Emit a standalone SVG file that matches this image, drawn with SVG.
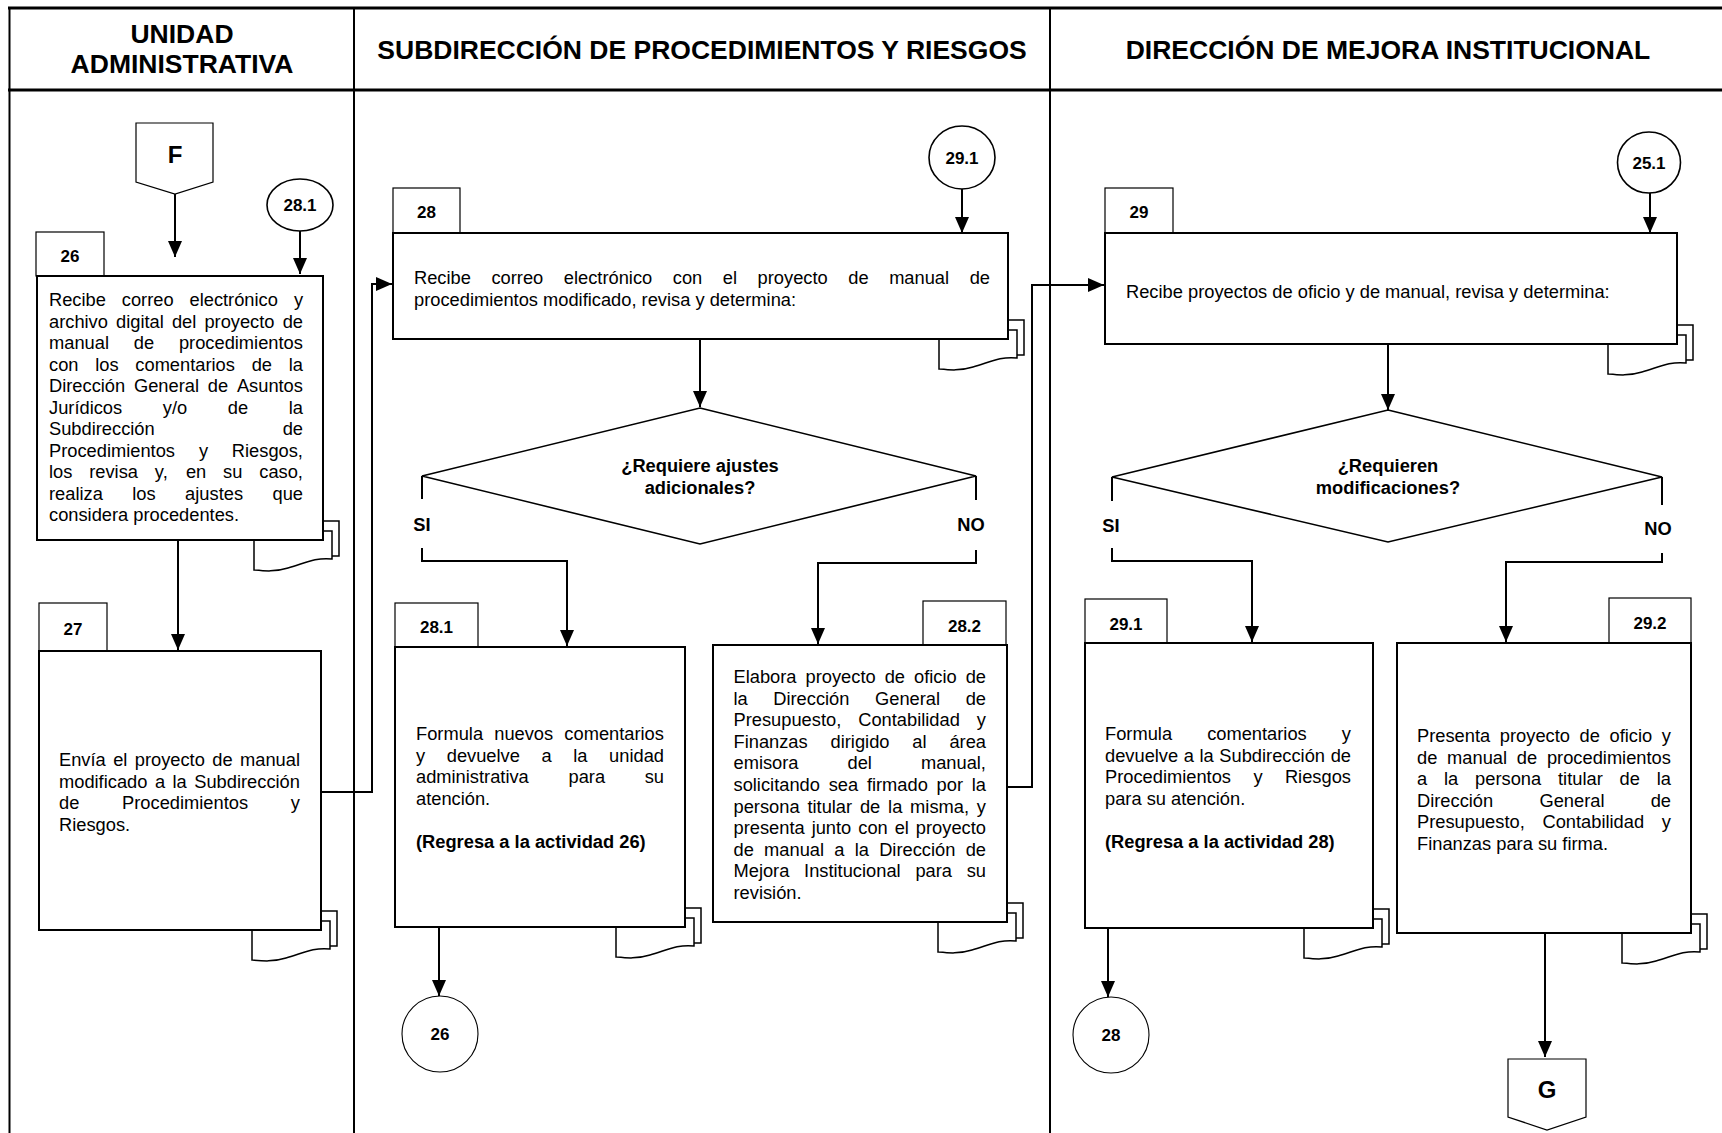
<svg xmlns="http://www.w3.org/2000/svg" xmlns:xlink="http://www.w3.org/1999/xlink" width="1722" height="1133" viewBox="0 0 1722 1133">
<style>
.lane{fill:none;stroke:#000;stroke-width:2}
.lthick{fill:none;stroke:#000;stroke-width:3}
.box{fill:#fff;stroke:#000;stroke-width:2}
.tab{fill:#fff;stroke:#000;stroke-width:1.2}
.circ{fill:#fff;stroke:#000;stroke-width:1.6}
.circ2{fill:#fff;stroke:#000;stroke-width:1.1}
.dia{fill:#fff;stroke:#000;stroke-width:1.6}
.conn{fill:none;stroke:#000;stroke-width:2}
.arr{marker-end:url(#ah)}
.doc{fill:#fff;stroke:#000;stroke-width:1.5}
text{font-family:"Liberation Sans",Arial,Helvetica,sans-serif;fill:#000}
.t{font-size:18.3px}
.b{font-size:18.3px;font-weight:bold}
.lbl{font-size:17px;font-weight:bold;text-anchor:middle}
.hdr{font-size:26.5px;font-weight:bold;text-anchor:middle}
.mid{text-anchor:middle}
</style>
<defs>
<marker id="ah" markerUnits="userSpaceOnUse" markerWidth="16" markerHeight="14" refX="16" refY="7" orient="auto">
<path d="M0,0 L16,7 L0,14 Z" fill="#000"/>
</marker>
<g id="doc">
<path class="doc" d="M-62,-19 H16 V16 H-62 Z"/>
<path class="doc" d="M-69,-9 H9 V19 C-8,17 -20,24 -35,28 C-48,32 -58,31 -69,30 Z"/>
</g>
</defs>
<rect x="0" y="0" width="1722" height="1133" fill="#fff"/>

<g id="lanes">
<line class="lthick" x1="8" y1="8" x2="1722" y2="8"/>
<line class="lthick" x1="8" y1="90" x2="1722" y2="90"/>
<line class="lane" x1="9.5" y1="7" x2="9.5" y2="1133"/>
<line class="lane" x1="354" y1="8" x2="354" y2="1133"/>
<line class="lane" x1="1050" y1="8" x2="1050" y2="1133"/>
<text class="hdr" x="182" y="42.5">UNIDAD</text>
<text class="hdr" x="182" y="73">ADMINISTRATIVA</text>
<text class="hdr" x="702" y="59">SUBDIRECCIÓN DE PROCEDIMIENTOS Y RIESGOS</text>
<text class="hdr" x="1388" y="59">DIRECCIÓN DE MEJORA INSTITUCIONAL</text>
</g>

<g id="connectors">
<line class="conn arr" x1="175" y1="194" x2="175" y2="257"/>
<line class="conn arr" x1="300" y1="231" x2="300" y2="274"/>
<line class="conn arr" x1="178" y1="540" x2="178" y2="650"/>
<path class="conn arr" d="M321,792 H372 V284 H392"/>
<line class="conn arr" x1="962" y1="189" x2="962" y2="233"/>
<line class="conn arr" x1="700" y1="339" x2="700" y2="407"/>
<path class="conn" d="M422,476 V499"/>
<path class="conn arr" d="M422,548 V561 H567 V646"/>
<path class="conn" d="M976,476 V500"/>
<path class="conn arr" d="M976,550 V563 H818 V644"/>
<line class="conn arr" x1="439" y1="927" x2="439" y2="996"/>
<path class="conn arr" d="M1007,787 H1032 V285 H1104"/>
<line class="conn arr" x1="1650" y1="193" x2="1650" y2="233"/>
<line class="conn arr" x1="1388" y1="344" x2="1388" y2="410"/>
<path class="conn" d="M1112,477 V501"/>
<path class="conn arr" d="M1112,548 V561 H1252 V642"/>
<path class="conn" d="M1662,477 V505"/>
<path class="conn arr" d="M1662,553 V562 H1506 V642"/>
<line class="conn arr" x1="1108" y1="928" x2="1108" y2="997"/>
<line class="conn arr" x1="1545" y1="933" x2="1545" y2="1057"/>
</g>

<g id="nF">
<path class="tab" d="M136,123 H213 V182 L175,194 L136,182 Z"/>
<text class="hdr" x="175" y="163" style="font-size:24px">F</text>
</g>

<g id="c281a">
<ellipse class="circ" cx="300" cy="205" rx="33" ry="26"/>
<text class="lbl" x="300" y="211">28.1</text>
</g>

<g id="n26">
<use href="#doc" x="323" y="540"/>
<rect class="tab" x="36" y="232" width="68" height="44"/>
<rect class="box" x="37" y="276" width="286" height="264"/>
<text class="lbl" x="70" y="262">26</text>
<text class="t"><tspan x="49" y="306">Recibe</tspan><tspan x="121.8" y="306">correo</tspan><tspan x="189.5" y="306">electrónico</tspan><tspan x="293.9" y="306">y</tspan></text>
<text class="t"><tspan x="49" y="327.5">archivo</tspan><tspan x="116.05" y="327.5">digital</tspan><tspan x="171.92" y="327.5">del</tspan><tspan x="204.4" y="327.5">proyecto</tspan><tspan x="282.65" y="327.5">de</tspan></text>
<text class="t"><tspan x="49" y="349">manual</tspan><tspan x="133.79" y="349">de</tspan><tspan x="178.92" y="349">procedimientos</tspan></text>
<text class="t"><tspan x="49" y="370.5">con</tspan><tspan x="95.22" y="370.5">los</tspan><tspan x="135.33" y="370.5">comentarios</tspan><tspan x="251.71" y="370.5">de</tspan><tspan x="288.78" y="370.5">la</tspan></text>
<text class="t"><tspan x="49" y="392">Dirección</tspan><tspan x="133.99" y="392">General</tspan><tspan x="207.81" y="392">de</tspan><tspan x="236.89" y="392">Asuntos</tspan></text>
<text class="t"><tspan x="49" y="413.5">Jurídicos</tspan><tspan x="162.81" y="413.5">y/o</tspan><tspan x="227.81" y="413.5">de</tspan><tspan x="288.75" y="413.5">la</tspan></text>
<text class="t"><tspan x="49" y="435">Subdirección</tspan><tspan x="282.65" y="435">de</tspan></text>
<text class="t"><tspan x="49" y="456.5">Procedimientos</tspan><tspan x="198.89" y="456.5">y</tspan><tspan x="231.82" y="456.5">Riesgos,</tspan></text>
<text class="t"><tspan x="49" y="478">los</tspan><tspan x="89.22" y="478">revisa</tspan><tspan x="154.86" y="478">y,</tspan><tspan x="185.93" y="478">en</tspan><tspan x="223.11" y="478">su</tspan><tspan x="259.26" y="478">caso,</tspan></text>
<text class="t"><tspan x="49" y="499.5">realiza</tspan><tspan x="132.3" y="499.5">los</tspan><tspan x="185.1" y="499.5">ajustes</tspan><tspan x="272.48" y="499.5">que</tspan></text>
<text class="t" x="49" y="521">considera procedentes.</text>
</g>

<g id="n27">
<use href="#doc" x="321" y="930"/>
<rect class="tab" x="39" y="603" width="68" height="48"/>
<rect class="box" x="39" y="651" width="282" height="279"/>
<text class="lbl" x="73" y="635">27</text>
<text class="t"><tspan x="59" y="766">Envía</tspan><tspan x="113.15" y="766">el</tspan><tspan x="134.75" y="766">proyecto</tspan><tspan x="212.29" y="766">de</tspan><tspan x="240" y="766">manual</tspan></text>
<text class="t"><tspan x="59" y="787.5">modificado</tspan><tspan x="154.93" y="787.5">a</tspan><tspan x="172.55" y="787.5">la</tspan><tspan x="194.24" y="787.5">Subdirección</tspan></text>
<text class="t"><tspan x="59" y="809">de</tspan><tspan x="122.05" y="809">Procedimientos</tspan><tspan x="290.86" y="809">y</tspan></text>
<text class="t" x="59" y="830.5">Riesgos.</text>
</g>

<g id="c291a">
<ellipse class="circ" cx="962" cy="157.5" rx="33" ry="31.5"/>
<text class="lbl" x="962" y="163.5">29.1</text>
</g>

<g id="n28">
<use href="#doc" x="1008" y="339"/>
<rect class="tab" x="393" y="188" width="67" height="45"/>
<rect class="box" x="393" y="233" width="615" height="106"/>
<text class="lbl" x="426.5" y="218">28</text>
<text class="t"><tspan x="414" y="283.5">Recibe</tspan><tspan x="491.46" y="283.5">correo</tspan><tspan x="563.83" y="283.5">electrónico</tspan><tspan x="672.82" y="283.5">con</tspan><tspan x="722.83" y="283.5">el</tspan><tspan x="757.58" y="283.5">proyecto</tspan><tspan x="848.27" y="283.5">de</tspan><tspan x="889.13" y="283.5">manual</tspan><tspan x="969.65" y="283.5">de</tspan></text>
<text class="t" x="414" y="305.5">procedimientos modificado, revisa y determina:</text>
</g>

<g id="d28">
<path class="dia" d="M700,408 L976,476 L700,544 L422,476 Z"/>
<text class="b mid" x="700" y="472">¿Requiere ajustes</text>
<text class="b mid" x="700" y="494">adicionales?</text>
<text class="b mid" x="422" y="531">SI</text>
<text class="b mid" x="971" y="531">NO</text>
</g>

<g id="n281">
<use href="#doc" x="685" y="927"/>
<rect class="tab" x="395" y="603" width="83" height="44"/>
<rect class="box" x="395" y="647" width="290" height="280"/>
<text class="lbl" x="436.5" y="633">28.1</text>
<text class="t"><tspan x="416" y="740">Formula</tspan><tspan x="494.23" y="740">nuevos</tspan><tspan x="564.35" y="740">comentarios</tspan></text>
<text class="t"><tspan x="416" y="761.5">y</tspan><tspan x="446.72" y="761.5">devuelve</tspan><tspan x="541.53" y="761.5">a</tspan><tspan x="573.27" y="761.5">la</tspan><tspan x="609.08" y="761.5">unidad</tspan></text>
<text class="t"><tspan x="416" y="783">administrativa</tspan><tspan x="568.47" y="783">para</tspan><tspan x="644.69" y="783">su</tspan></text>
<text class="t" x="416" y="804.5">atención.</text>
<text class="b" x="416" y="847.5">(Regresa a la actividad 26)</text>
</g>

<g id="n282">
<use href="#doc" x="1007" y="922"/>
<rect class="tab" x="923" y="601" width="83" height="44"/>
<rect class="box" x="713" y="645" width="294" height="277"/>
<text class="lbl" x="964.5" y="632">28.2</text>
<text class="t"><tspan x="733.5" y="683">Elabora</tspan><tspan x="805.52" y="683">proyecto</tspan><tspan x="884.66" y="683">de</tspan><tspan x="913.97" y="683">oficio</tspan><tspan x="965.64" y="683">de</tspan></text>
<text class="t"><tspan x="733.5" y="704.6">la</tspan><tspan x="773.26" y="704.6">Dirección</tspan><tspan x="875.04" y="704.6">General</tspan><tspan x="965.65" y="704.6">de</tspan></text>
<text class="t"><tspan x="733.5" y="726.2">Presupuesto,</tspan><tspan x="858.23" y="726.2">Contabilidad</tspan><tspan x="976.85" y="726.2">y</tspan></text>
<text class="t"><tspan x="733.5" y="747.8">Finanzas</tspan><tspan x="830.55" y="747.8">dirigido</tspan><tspan x="912.34" y="747.8">al</tspan><tspan x="949.39" y="747.8">área</tspan></text>
<text class="t"><tspan x="733.5" y="769.4">emisora</tspan><tspan x="847.54" y="769.4">del</tspan><tspan x="920.92" y="769.4">manual,</tspan></text>
<text class="t"><tspan x="733.5" y="791">solicitando</tspan><tspan x="828.67" y="791">sea</tspan><tspan x="866.89" y="791">firmado</tspan><tspan x="936.62" y="791">por</tspan><tspan x="971.78" y="791">la</tspan></text>
<text class="t"><tspan x="733.5" y="812.6">persona</tspan><tspan x="807.41" y="812.6">titular</tspan><tspan x="859.94" y="812.6">de</tspan><tspan x="888.08" y="812.6">la</tspan><tspan x="910.11" y="812.6">misma,</tspan><tspan x="976.86" y="812.6">y</tspan></text>
<text class="t"><tspan x="733.5" y="834.2">presenta</tspan><tspan x="811.64" y="834.2">junto</tspan><tspan x="858.24" y="834.2">con</tspan><tspan x="894.67" y="834.2">el</tspan><tspan x="915.84" y="834.2">proyecto</tspan></text>
<text class="t"><tspan x="733.5" y="855.8">de</tspan><tspan x="764.07" y="855.8">manual</tspan><tspan x="834.3" y="855.8">a</tspan><tspan x="854.69" y="855.8">la</tspan><tspan x="879.15" y="855.8">Dirección</tspan><tspan x="965.63" y="855.8">de</tspan></text>
<text class="t"><tspan x="733.5" y="877.4">Mejora</tspan><tspan x="804.09" y="877.4">Institucional</tspan><tspan x="915.38" y="877.4">para</tspan><tspan x="966.67" y="877.4">su</tspan></text>
<text class="t" x="733.5" y="899">revisión.</text>
</g>

<g id="c26">
<ellipse class="circ2" cx="440" cy="1034" rx="38" ry="38"/>
<text class="lbl" x="440" y="1040">26</text>
</g>

<g id="c251">
<ellipse class="circ" cx="1649" cy="162.5" rx="31.5" ry="30.5"/>
<text class="lbl" x="1649" y="168.5">25.1</text>
</g>

<g id="n29">
<use href="#doc" x="1677" y="344"/>
<rect class="tab" x="1105" y="188" width="68" height="45"/>
<rect class="box" x="1105" y="233" width="572" height="111"/>
<text class="lbl" x="1139" y="218">29</text>
<text class="t" x="1126" y="298">Recibe proyectos de oficio y de manual, revisa y determina:</text>
</g>

<g id="d29">
<path class="dia" d="M1388,410 L1662,477 L1388,542 L1112,477 Z"/>
<text class="b mid" x="1388" y="472">¿Requieren</text>
<text class="b mid" x="1388" y="494">modificaciones?</text>
<text class="b mid" x="1111" y="532">SI</text>
<text class="b mid" x="1658" y="535">NO</text>
</g>

<g id="n291">
<use href="#doc" x="1373" y="928"/>
<rect class="tab" x="1085" y="599" width="82" height="44"/>
<rect class="box" x="1085" y="643" width="288" height="285"/>
<text class="lbl" x="1126" y="630">29.1</text>
<text class="t"><tspan x="1105" y="740">Formula</tspan><tspan x="1207.15" y="740">comentarios</tspan><tspan x="1341.85" y="740">y</tspan></text>
<text class="t"><tspan x="1105" y="761.5">devuelve</tspan><tspan x="1183.8" y="761.5">a</tspan><tspan x="1199.53" y="761.5">la</tspan><tspan x="1219.33" y="761.5">Subdirección</tspan><tspan x="1330.66" y="761.5">de</tspan></text>
<text class="t"><tspan x="1105" y="783">Procedimientos</tspan><tspan x="1253.43" y="783">y</tspan><tspan x="1284.9" y="783">Riesgos</tspan></text>
<text class="t" x="1105" y="804.5">para su atención.</text>
<text class="b" x="1105" y="847.5">(Regresa a la actividad 28)</text>
</g>

<g id="n292">
<use href="#doc" x="1691" y="933"/>
<rect class="tab" x="1609" y="598" width="82" height="45"/>
<rect class="box" x="1397" y="643" width="294" height="290"/>
<text class="lbl" x="1650" y="629">29.2</text>
<text class="t"><tspan x="1417" y="742">Presenta</tspan><tspan x="1499.83" y="742">proyecto</tspan><tspan x="1579.6" y="742">de</tspan><tspan x="1609.54" y="742">oficio</tspan><tspan x="1661.84" y="742">y</tspan></text>
<text class="t"><tspan x="1417" y="763.5">de</tspan><tspan x="1447.09" y="763.5">manual</tspan><tspan x="1516.84" y="763.5">de</tspan><tspan x="1546.93" y="763.5">procedimientos</tspan></text>
<text class="t"><tspan x="1417" y="785">a</tspan><tspan x="1444" y="785">la</tspan><tspan x="1475.07" y="785">persona</tspan><tspan x="1558.02" y="785">titular</tspan><tspan x="1619.59" y="785">de</tspan><tspan x="1656.77" y="785">la</tspan></text>
<text class="t"><tspan x="1417" y="806.5">Dirección</tspan><tspan x="1539.41" y="806.5">General</tspan><tspan x="1650.65" y="806.5">de</tspan></text>
<text class="t"><tspan x="1417" y="828">Presupuesto,</tspan><tspan x="1542.48" y="828">Contabilidad</tspan><tspan x="1661.85" y="828">y</tspan></text>
<text class="t" x="1417" y="849.5">Finanzas para su firma.</text>
</g>

<g id="c28">
<ellipse class="circ2" cx="1111" cy="1035" rx="38" ry="38"/>
<text class="lbl" x="1111" y="1041">28</text>
</g>

<g id="nG">
<path class="tab" d="M1508,1059 H1586 V1117 L1547,1130 L1508,1117 Z"/>
<text class="hdr" x="1547" y="1098" style="font-size:24px">G</text>
</g>
</svg>
